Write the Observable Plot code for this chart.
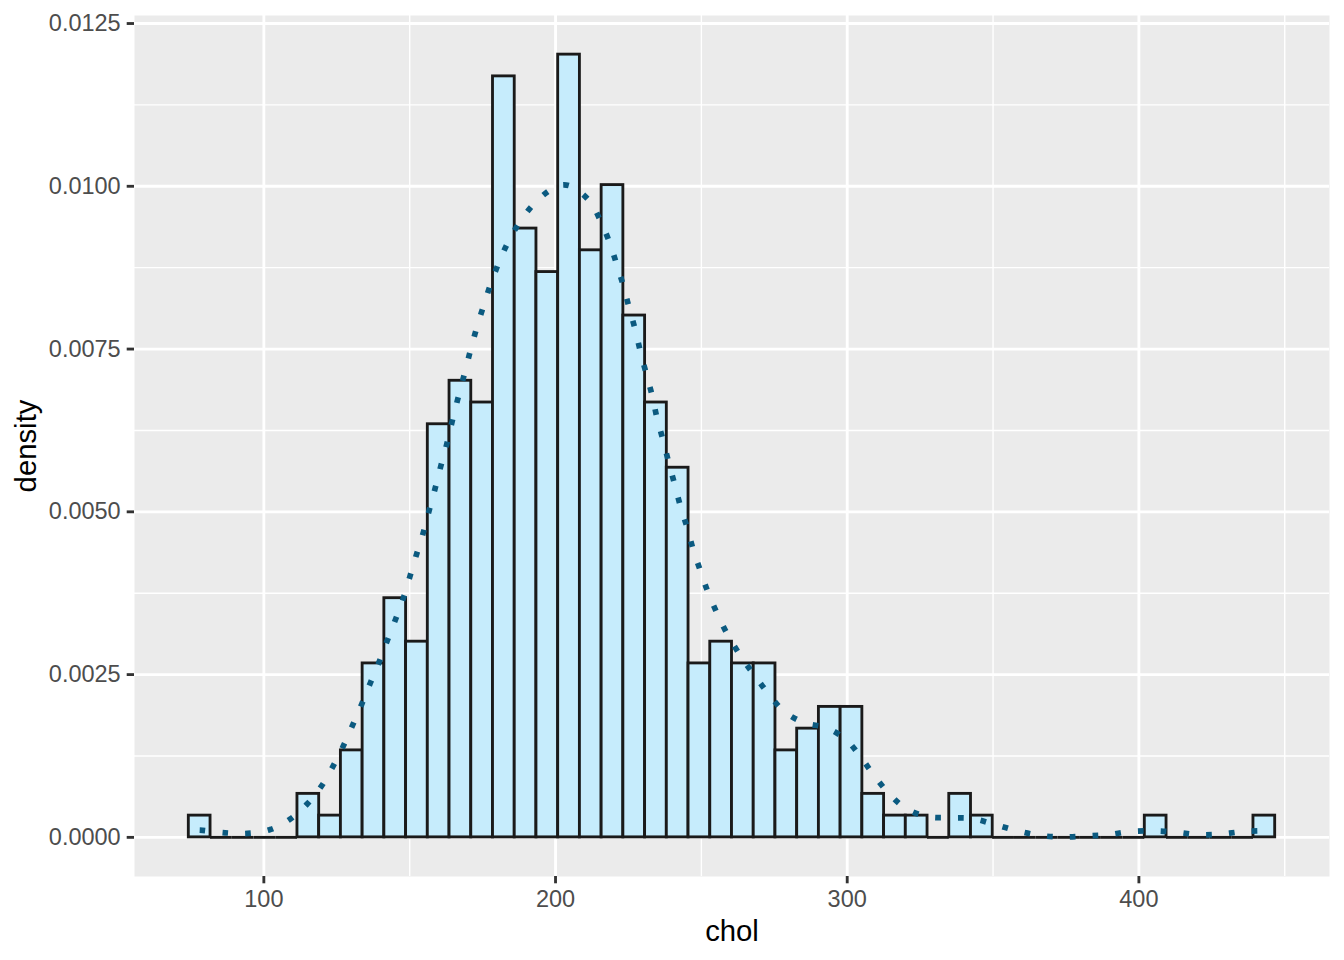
<!DOCTYPE html>
<html>
<head>
<meta charset="utf-8">
<script src="https://cdn.jsdelivr.net/npm/d3@7"></script>
<script src="https://cdn.jsdelivr.net/npm/@observablehq/plot@0.6"></script>
<style>
  html, body { margin: 0; padding: 0; background: #ffffff; }
  svg { display: block; }
</style>
</head>
<body>
<script>
// ---- Data ----
// histogram: 50 bins, first bin starts at 74.28, bin width 7.449 (chol from 78 to 443)
const binStart = 74.2755;
const binWidth = 7.44898;
const nObs = 402;
const binCounts = [1, 0, 0, 0, 0, 2, 1, 4, 8, 11,
                   9, 19, 21, 20, 35, 28, 26, 36, 27, 30,
                   24, 20, 17, 8, 9, 8, 8, 4, 5, 6,
                   6, 2, 1, 1, 0, 2, 1, 0, 0, 0,
                   0, 0, 0, 0, 1, 0, 0, 0, 0, 1];

// density curve (dotted), read point by point
const densX = [78, 79.0, 86.7, 94.4, 102.2, 109.0, 115.0, 119.8, 123.7, 127.2,
               130.4, 133.5, 136.4, 139.4, 142.2, 145.0, 147.8, 150.1, 152.3, 154.6,
               156.6, 158.6, 160.6, 162.6, 164.4, 166.3, 168.3, 170.9, 173.0, 175.3,
               177.7, 180.5, 183.7, 187.6, 192.4, 198.4, 202.2, 205.8, 211.7, 215.5,
               218.5, 220.9, 223.2, 225.2, 227.3, 229.1, 231.1, 233.1, 234.8, 236.8,
               238.8, 240.8, 242.8, 245.1, 247.2, 249.7, 252.3, 255.4, 258.8, 264.0,
               268.5, 273.3, 278.5, 285.3, 293.0, 299.6, 304.7, 309.2, 314.2, 319.9,
               327.1, 334.9, 342.7, 350.4, 358.3, 366.1, 373.7, 381.5, 389.3, 397.2,
               404.9, 412.7, 420.4, 428.2, 436.0, 443];
const densY = [0.00011, 0.000107, 0.00007, 0.00006, 0.00012, 0.00028, 0.00052, 0.00079, 0.00109, 0.0014,
               0.00172, 0.00204, 0.00236, 0.00268, 0.00301, 0.00333, 0.00367, 0.00401, 0.00434, 0.00467,
               0.00501, 0.00534, 0.00569, 0.00602, 0.00636, 0.0067, 0.00704, 0.00749, 0.00783, 0.00816,
               0.00849, 0.00882, 0.00914, 0.00944, 0.00972, 0.00995, 0.01002, 0.00999, 0.00977, 0.00946,
               0.00914, 0.00881, 0.00848, 0.00814, 0.0078, 0.00746, 0.00712, 0.00679, 0.00644, 0.00611,
               0.00576, 0.00543, 0.00509, 0.00476, 0.00442, 0.00409, 0.00376, 0.00344, 0.00313, 0.00275,
               0.00247, 0.00219, 0.00193, 0.00176, 0.00168, 0.0015, 0.00123, 0.00095, 0.00068, 0.00045,
               0.00032, 0.0003, 0.00029, 0.0002, 0.0001, 0.00003, 0.000005, 0.00002, 0.00004, 0.00009,
               0.0001, 0.00008, 0.00004, 0.00005, 0.00009, 0.0001];

// axis ticks
const xMajor = [100, 200, 300, 400];
const xMinor = [150, 250, 350, 450];
const yMajor = [0, 0.0025, 0.005, 0.0075, 0.01, 0.0125];
const yMinor = [0.00125, 0.00375, 0.00625, 0.00875, 0.01125];
const xTitle = "chol";
const yTitle = "density";

// ---- Build tables ----
const bins = binCounts.map((c, i) => ({
  x1: binStart + i * binWidth,
  x2: binStart + (i + 1) * binWidth,
  count: c,
  density: c / (nObs * binWidth)
}));
const curve = densX.map((x, i) => ({x, y: densY[i]}));

// ggplot-like 5% expansion
const xLo = binStart, xHi = binStart + binCounts.length * binWidth;
const xPad = (xHi - xLo) * 0.05;
const yMax = d3.max(bins, d => d.density);
const yPad = yMax * 0.05;

const font = "'Liberation Sans', Arial, Helvetica, sans-serif";

const chart = Plot.plot({
  width: 1344,
  height: 960,
  marginLeft: 134,
  marginRight: 15,
  marginTop: 15,
  marginBottom: 84,
  style: {fontFamily: font, background: "#ffffff"},
  x: {domain: [xLo - xPad, xHi + xPad], label: null},
  y: {domain: [-yPad, yMax + yPad], label: null},
  marks: [
    Plot.frame({fill: "#EBEBEB", stroke: "none"}),
    Plot.ruleX(xMinor, {stroke: "#ffffff", strokeWidth: 1.4}),
    Plot.ruleY(yMinor, {stroke: "#ffffff", strokeWidth: 1.4}),
    Plot.ruleX(xMajor, {stroke: "#ffffff", strokeWidth: 2.85}),
    Plot.ruleY(yMajor, {stroke: "#ffffff", strokeWidth: 2.85}),
    Plot.ruleY(bins.filter(d => d.count === 0), {
      x1: "x1", x2: "x2", y: 0, stroke: "#1a1a1a", strokeWidth: 2.85
    }),
    Plot.rectY(bins.filter(d => d.count > 0), {
      x1: "x1", x2: "x2", y1: 0, y2: "density", inset: 0,
      fill: "#C6ECFC", stroke: "#1a1a1a", strokeWidth: 2.85
    }),
    Plot.line(curve, {
      x: "x", y: "y", curve: "catmull-rom",
      stroke: "#0B5A80", strokeWidth: 5.7,
      strokeDasharray: "5.7,17.1", strokeLinecap: "butt"
    }),
    Plot.axisX(xMajor, {
      tickSize: 7.3, tickPadding: 6.5, strokeWidth: 2.85,
      stroke: "#333333", fill: "#4D4D4D", fontSize: 23.5, label: null
    }),
    Plot.axisY(yMajor, {
      tickSize: 7.3, tickPadding: 6.5, strokeWidth: 2.85,
      stroke: "#333333", fill: "#4D4D4D", fontSize: 23.5, label: null,
      tickFormat: d3.format(".4f")
    }),
    Plot.text([xTitle], {
      frameAnchor: "bottom", dy: 64, lineAnchor: "bottom", textAnchor: "middle",
      text: d => d, fontSize: 29.3, fill: "#000000"
    }),
    Plot.text([yTitle], {
      frameAnchor: "left", dx: -99, rotate: -90, lineAnchor: "bottom", textAnchor: "middle",
      text: d => d, fontSize: 29.3, fill: "#000000"
    })
  ]
});
document.body.appendChild(chart);
</script>
</body>
</html>
